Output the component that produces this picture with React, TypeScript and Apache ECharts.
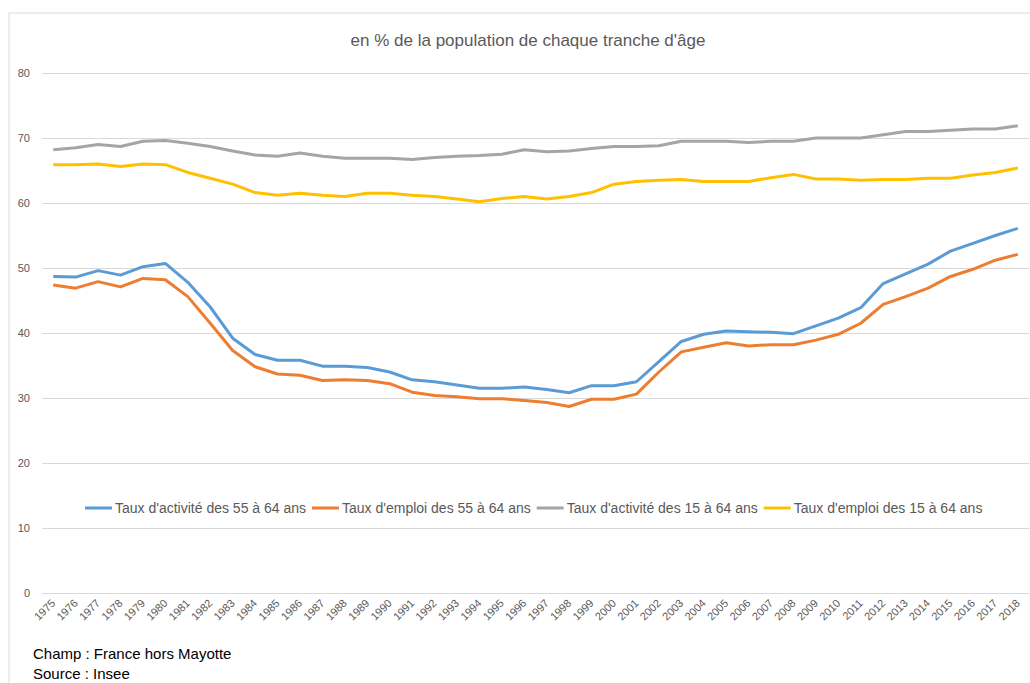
import React, { useEffect, useRef } from "react";
import * as echarts from "echarts";

const years = [
  "1975", "1976", "1977", "1978", "1979", "1980", "1981", "1982", "1983", "1984",
  "1985", "1986", "1987", "1988", "1989", "1990", "1991", "1992", "1993", "1994",
  "1995", "1996", "1997", "1998", "1999", "2000", "2001", "2002", "2003", "2004",
  "2005", "2006", "2007", "2008", "2009", "2010", "2011", "2012", "2013", "2014",
  "2015", "2016", "2017", "2018",
];

const activite5564 = [
  48.7, 48.6, 49.6, 48.9, 50.2, 50.7, 47.8, 44.0, 39.2, 36.7,
  35.8, 35.8, 34.9, 34.9, 34.7, 34.0, 32.8, 32.5, 32.0, 31.5,
  31.5, 31.7, 31.3, 30.8, 31.9, 31.9, 32.5, 35.6, 38.7, 39.8,
  40.3, 40.2, 40.1, 39.9, 41.1, 42.3, 43.9, 47.6, 49.1, 50.6,
  52.6, 53.8, 55.0, 56.1,
];

const emploi5564 = [
  47.4, 46.9, 47.9, 47.1, 48.4, 48.2, 45.6, 41.5, 37.3, 34.8,
  33.7, 33.5, 32.7, 32.8, 32.7, 32.2, 30.9, 30.4, 30.2, 29.9,
  29.9, 29.6, 29.3, 28.7, 29.8, 29.8, 30.6, 34.0, 37.1, 37.8,
  38.5, 38.0, 38.2, 38.2, 38.9, 39.8, 41.5, 44.4, 45.6, 46.9,
  48.7, 49.8, 51.2, 52.1,
];

const activite1564 = [
  68.2, 68.5, 69.0, 68.7, 69.5, 69.6, 69.2, 68.7, 68.0, 67.4,
  67.2, 67.7, 67.2, 66.9, 66.9, 66.9, 66.7, 67.0, 67.2, 67.3,
  67.5, 68.2, 67.9, 68.0, 68.4, 68.7, 68.7, 68.8, 69.5, 69.5,
  69.5, 69.3, 69.5, 69.5, 70.0, 70.0, 70.0, 70.5, 71.0, 71.0,
  71.2, 71.4, 71.4, 71.9,
];

const emploi1564 = [
  65.9, 65.9, 66.0, 65.6, 66.0, 65.9, 64.7, 63.8, 62.9, 61.6,
  61.2, 61.5, 61.2, 61.0, 61.5, 61.5, 61.2, 61.0, 60.6, 60.2,
  60.7, 61.0, 60.6, 61.0, 61.6, 62.9, 63.3, 63.5, 63.6, 63.3,
  63.3, 63.3, 63.9, 64.4, 63.7, 63.7, 63.5, 63.6, 63.6, 63.8,
  63.8, 64.3, 64.7, 65.4,
];

const seriesNames = [
  "Taux d'activité des 55 à 64 ans",
  "Taux d'emploi des 55 à 64 ans",
  "Taux d'activité des 15 à 64 ans",
  "Taux d'emploi des 15 à 64 ans",
];

const seriesColors = ["#5B9BD5", "#ED7D31", "#A5A5A5", "#FFC000"];

const titleText = "en % de la population de chaque tranche d'âge";
const footerLines = ["Champ : France hors Mayotte", "Source : Insee"];

const FONT = "'Liberation Sans', Arial, sans-serif";

export default function App() {
  const ref = useRef<HTMLDivElement>(null);

  useEffect(() => {
    if (!ref.current) return;
    const chart = echarts.init(ref.current, null, { renderer: "svg" });
    const dataSets = [activite5564, emploi5564, activite1564, emploi1564];
    chart.setOption({
      animation: false,
      backgroundColor: "#ffffff",
      legend: {
        top: 496,
        left: 80,
        itemWidth: 27,
        itemHeight: 3,
        itemGap: 6,
        icon: "rect",
        textStyle: {
          fontFamily: FONT,
          fontSize: 14,
          color: "#595959",
          padding: [0, 0, 0, -2],
        },
        data: seriesNames,
      },
      grid: {
        left: 42,
        right: 1,
        top: 73,
        bottom: 90,
        containLabel: false,
      },
      xAxis: {
        type: "category",
        data: years,
        boundaryGap: true,
        axisLine: { show: true, lineStyle: { color: "#d9d9d9", width: 1 } },
        axisTick: { show: false },
        axisLabel: {
          rotate: 45,
          interval: 0,
          fontFamily: FONT,
          fontSize: 11,
          color: "#595959",
          margin: 8,
        },
      },
      yAxis: {
        type: "value",
        min: 0,
        max: 80,
        interval: 10,
        axisLine: { show: false },
        axisTick: { show: false },
        splitLine: { lineStyle: { color: "#d9d9d9", width: 1 } },
        axisLabel: {
          fontFamily: FONT,
          fontSize: 11,
          color: "#595959",
          margin: 12,
        },
      },
      graphic: [
        {
          type: "rect",
          shape: { x: 9, y: 13, width: 1030, height: 680 },
          style: { fill: "none", stroke: "#d9d9d9", lineWidth: 1 },
          silent: true,
        },
        {
          type: "text",
          x: 528,
          y: 40,
          style: {
            text: titleText,
            fontFamily: FONT,
            fontSize: 17,
            fill: "#595959",
            textAlign: "center",
            textVerticalAlign: "middle",
          },
        },
        {
          type: "text",
          left: 33,
          top: 646,
          style: {
            text: footerLines[0],
            fontFamily: FONT,
            fontSize: 15,
            fill: "#000000",
          },
        },
        {
          type: "text",
          left: 33,
          top: 666,
          style: {
            text: footerLines[1],
            fontFamily: FONT,
            fontSize: 15,
            fill: "#000000",
          },
        },
      ],
      series: seriesNames.map((name, i) => ({
        name,
        type: "line",
        data: dataSets[i],
        symbol: "none",
        color: seriesColors[i],
        lineStyle: { width: 3, color: seriesColors[i] },
        z: 2 + (3 - i),
      })),
    });
    return () => chart.dispose();
  }, []);

  return (
    <div
      ref={ref}
      style={{ position: "fixed", left: 0, top: 0, width: 1030, height: 683 }}
    />
  );
}
